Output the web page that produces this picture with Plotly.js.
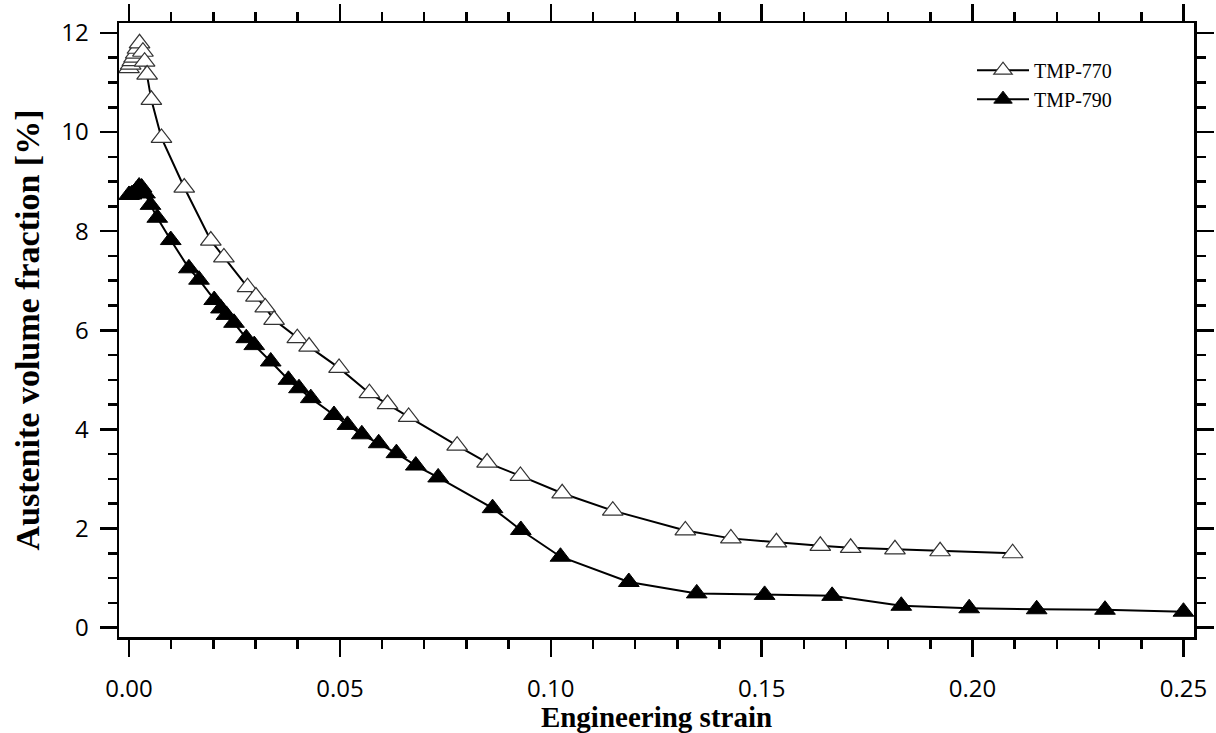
<!DOCTYPE html>
<html>
<head>
<meta charset="utf-8">
<script src="https://cdn.plot.ly/plotly-3.0.1.min.js"></script>
<style>html,body{margin:0;padding:0;background:#fff;}#chart{width:1216px;height:733px;}</style>
</head>
<body>
<div id="chart"></div>
<script>
// TMP-770 (open triangles)
const strain770 = [0.0000, 0.0004, 0.0008, 0.0012, 0.0016, 0.0020, 0.0025, 0.0033, 0.0037, 0.0043, 0.0053, 0.0077,
  0.0131, 0.0194, 0.0225, 0.0281, 0.0301, 0.0323, 0.0344, 0.0399, 0.0427, 0.0498, 0.0570, 0.0613, 0.0663,
  0.0778, 0.0849, 0.0928, 0.1027, 0.1147, 0.1319, 0.1427, 0.1535, 0.1639, 0.1711, 0.1816, 0.1923, 0.2095];
const austenite770 = [11.29, 11.36, 11.43, 11.50, 11.58, 11.68, 11.79, 11.62, 11.42, 11.16, 10.65, 9.88,
  8.88, 7.81, 7.47, 6.87, 6.68, 6.46, 6.21, 5.84, 5.67, 5.24, 4.73, 4.51, 4.25,
  3.67, 3.33, 3.06, 2.71, 2.36, 1.96, 1.80, 1.72, 1.65, 1.61, 1.58, 1.54, 1.50];

// TMP-790 (filled triangles)
const strain790 = [0.0000, 0.0006, 0.0012, 0.0018, 0.0024, 0.0030, 0.0038, 0.0051, 0.0067, 0.0099,
  0.0142, 0.0166, 0.0202, 0.0218, 0.0231, 0.0249, 0.0278, 0.0297, 0.0336, 0.0378, 0.0403, 0.0431, 0.0486,
  0.0518, 0.0552, 0.0592, 0.0634, 0.0680, 0.0733, 0.0862, 0.0929, 0.1023, 0.1185, 0.1346, 0.1507, 0.1667,
  0.1831, 0.1992, 0.2152, 0.2314, 0.2500];
const austenite790 = [8.73, 8.74, 8.77, 8.83, 8.90, 8.88, 8.76, 8.53, 8.27, 7.82,
  7.25, 7.02, 6.61, 6.44, 6.31, 6.15, 5.84, 5.70, 5.37, 5.00, 4.83, 4.63, 4.29,
  4.09, 3.90, 3.72, 3.52, 3.27, 3.03, 2.41, 1.97, 1.43, 0.92, 0.69, 0.66, 0.64,
  0.44, 0.39, 0.37, 0.36, 0.32];

const seriesNames = ['TMP-770', 'TMP-790'];
const xTickVals = [0, 0.05, 0.10, 0.15, 0.20, 0.25];
const xTickText = ['0.00', '0.05', '0.10', '0.15', '0.20', '0.25'];
const yTickVals = [0, 2, 4, 6, 8, 10, 12];

const traces = [
  {
    x: strain770, y: austenite770, name: seriesNames[0], type: 'scatter', mode: 'lines+markers',
    line: {color: '#000', width: 2},
    marker: {symbol: 'triangle-up', size: 18, color: '#fff', line: {color: '#333', width: 1.2}}
  },
  {
    x: strain790, y: austenite790, name: seriesNames[1], type: 'scatter', mode: 'lines+markers',
    line: {color: '#000', width: 2},
    marker: {symbol: 'triangle-up', size: 18, color: '#000', line: {color: '#000', width: 1}}
  }
];

const axisCommon = {
  showgrid: false, zeroline: false, showline: true, linecolor: '#000', linewidth: 2.5,
  mirror: 'allticks', ticks: 'outside', ticklen: 17, tickwidth: 2.5, tickcolor: '#000',
  tickfont: {family: 'Open Sans, sans-serif', size: 24, color: '#000'}
};

const layout = {
  width: 1216, height: 733,
  margin: {l: 119, r: 22, t: 23, b: 96},
  paper_bgcolor: '#fff', plot_bgcolor: '#fff',
  showlegend: true,
  legend: {
    x: 0.7935, y: 0.955, xanchor: 'left', yanchor: 'top',
    bgcolor: 'rgba(0,0,0,0)', borderwidth: 0, itemwidth: 52,
    font: {family: 'Liberation Serif, Times New Roman, serif', size: 20, color: '#000'},
    tracegroupgap: 0
  },
  xaxis: Object.assign({}, axisCommon, {
    range: [-0.00237, 0.2525],
    tickmode: 'array', tickvals: xTickVals, ticktext: xTickText,
    minor: {dtick: 0.01, tick0: 0, ticks: 'outside', ticklen: 9, tickwidth: 2.5, tickcolor: '#000', showgrid: false},
    ticklabelstandoff: 12,
    title: {text: 'Engineering strain', standoff: 10,
      font: {family: 'Liberation Serif, Times New Roman, serif', size: 29, color: '#000', weight: 'bold'}}
  }),
  yaxis: Object.assign({}, axisCommon, {
    range: [-0.19, 12.2],
    tickmode: 'array', tickvals: yTickVals,
    minor: {dtick: 0.5, tick0: 0, ticks: 'outside', ticklen: 9, tickwidth: 2.5, tickcolor: '#000', showgrid: false},
    ticklabelstandoff: 6,
    title: {text: 'Austenite volume fraction [%]', standoff: 12,
      font: {family: 'Liberation Serif, Times New Roman, serif', size: 34, color: '#000', weight: 'bold'}}
  })
};

Plotly.newPlot('chart', traces, layout, {displayModeBar: false, staticPlot: true});
</script>
</body>
</html>
